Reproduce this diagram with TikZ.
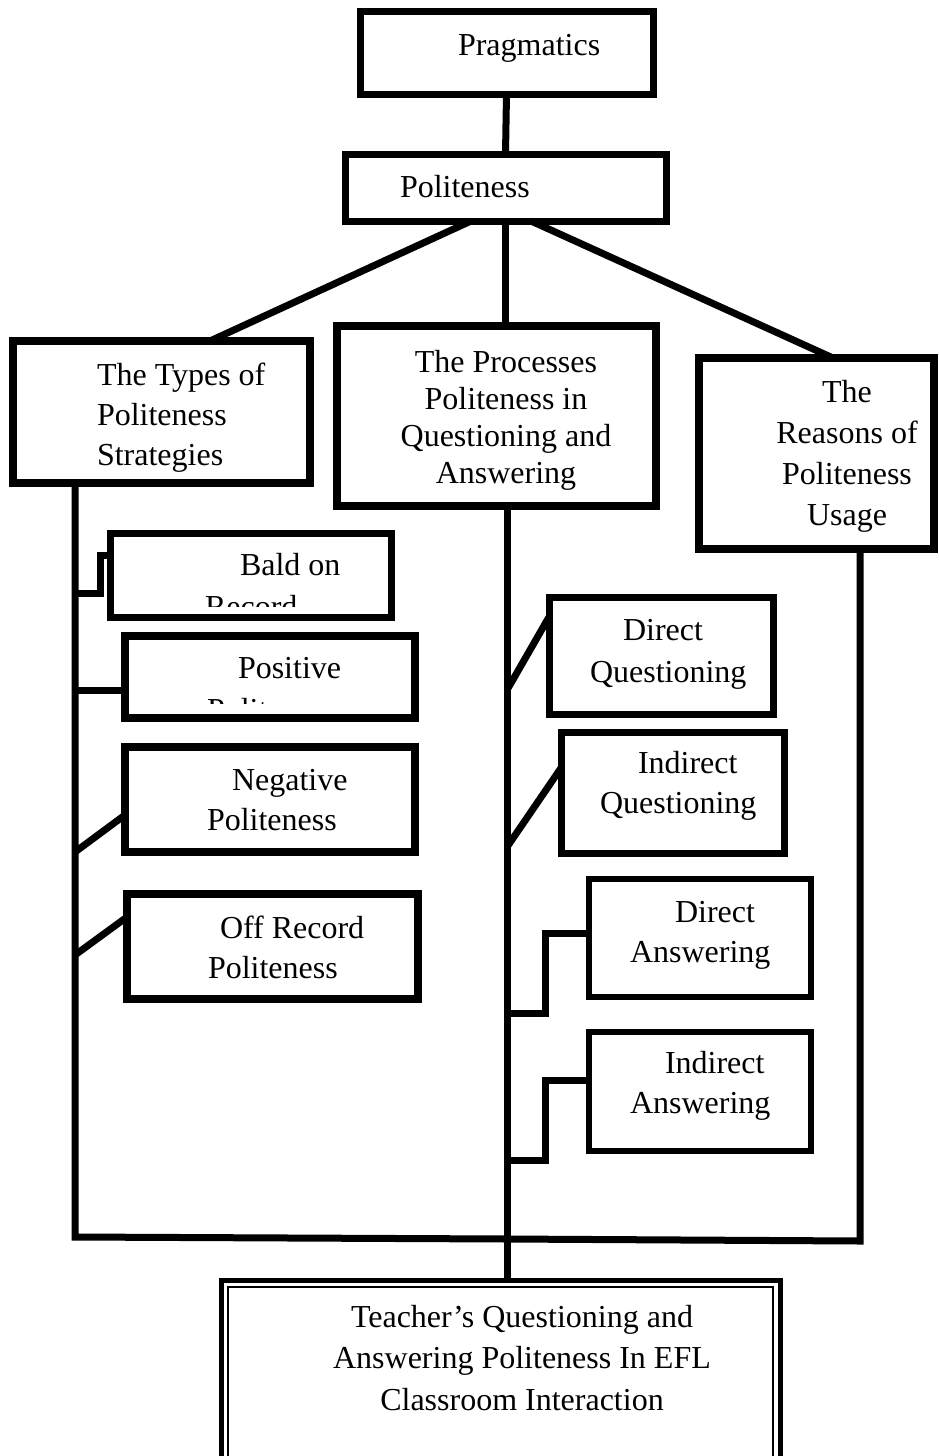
\documentclass[tikz,border=0pt]{standalone}
\usepackage{fontspec}
\setmainfont{Liberation Serif}
\usetikzlibrary{fit}
\begin{document}
\begin{tikzpicture}[x=0.5pt,y=-0.5pt,
  box/.style={draw=black, line width=3.5pt, inner sep=0pt, outer sep=0pt},
  heavybox/.style={box, line width=4pt},
  conn/.style={draw=black, line width=3.5pt},
  txt/.style={inner sep=0pt, outer sep=0pt, font=\fontsize{16}{20}\selectfont},
  tA/.style={txt, font=\fontsize{16}{20}\selectfont},
  tB/.style={txt, font=\fontsize{16}{21}\selectfont},
  tC/.style={txt, font=\fontsize{16}{18.5}\selectfont},
  tD/.style={txt, font=\fontsize{16}{20.5}\selectfont},
  tE/.style={txt, font=\fontsize{16}{20.75}\selectfont}]
\useasboundingbox (0,0) rectangle (938,1456);

% boxes
\node[box, fit={(360,11)(653,94)}] (prag) {};
\node[box, fit={(345,154)(666,221)}] (pol) {};
\node[heavybox, fit={(13,341)(310,483)}] (types) {};
\node[heavybox, fit={(337,326)(656,506)}] (proc) {};
\node[heavybox, fit={(699,358)(934,549)}] (reasons) {};
\node[box, fit={(110,533)(391,617)}] (bald) {};
\node[heavybox, fit={(125,636)(415,718)}] (pos) {};
\node[heavybox, fit={(125,747)(415,852)}] (neg) {};
\node[heavybox, fit={(127,894)(418,999)}] (off) {};
\node[box, fit={(549,597)(773,714)}] (dq) {};
\node[box, fit={(561,732)(784,853)}] (iq) {};
\node[box, line width=3pt, fit={(589,879)(811,997)}] (da) {};
\node[box, line width=3pt, fit={(589,1032)(811,1151)}] (ia) {};
\node[box, line width=2.5pt, fit={(221,1280)(780,1470)}] (teacher) {};
\node[box, line width=1pt, fit={(228,1287)(773,1470)}] (teacherin) {};

% texts
\node[txt, anchor=base west] (tprag) at (458,55) {Pragmatics};
\node[txt, anchor=base west] (tpol) at (400,197) {Politeness};
\begin{scope}
  \clip (17,345) rectangle (306,478);
  \node[tA, align=left, anchor=north west] (ttypes) at (97,357)
    {\strut The Types of\\\strut Politeness\\\strut Strategies};
\end{scope}
\node[tC, align=center, anchor=north] (tproc) at (506,347)
  {\strut The Processes\\\strut Politeness in\\\strut Questioning and\\\strut Answering};
\node[tD, align=center, anchor=north] (treasons) at (847,374)
  {\strut The\\\strut Reasons of\\\strut Politeness\\\strut Usage};
\begin{scope}
  \clip (114,537) rectangle (387,606);
  \node[tB, align=left, anchor=north west] (tbald) at (205,546)
    {\strut\hspace*{17.5pt}Bald on\\\strut Record};
\end{scope}
\begin{scope}
  \clip (129,640) rectangle (411,703);
  \node[tB, align=left, anchor=north west] (tpos) at (207,649)
    {\strut\hspace*{15.5pt}Positive\\\strut Politeness};
\end{scope}
\node[tA, align=left, anchor=north west] (tneg) at (207,762)
  {\strut\hspace*{12.5pt}Negative\\\strut Politeness};
\node[tA, align=left, anchor=north west] (toff) at (208,910)
  {\strut\hspace*{6pt}Off Record\\\strut Politeness};
\node[tB, align=left, anchor=north west] (tdq) at (590,611)
  {\strut\hspace*{16.5pt}Direct\\\strut Questioning};
\node[tA, align=left, anchor=north west] (tiq) at (600,745)
  {\strut\hspace*{19pt}Indirect\\\strut Questioning};
\node[tA, align=left, anchor=north west] (tda) at (630,894)
  {\strut\hspace*{22.5pt}Direct\\\strut Answering};
\node[tA, align=left, anchor=north west] (tia) at (630,1045)
  {\strut\hspace*{17.5pt}Indirect\\\strut Answering};
\node[tE, align=center, anchor=north] (tteacher) at (522,1298)
  {\strut Teacher’s Questioning and\\\strut Answering Politeness In EFL\\\strut Classroom Interaction};

% junction coordinates
\coordinate (bl) at (75,1237);
\coordinate (bm) at (507,1239);
\coordinate (br) at (860,1241);
\coordinate (jb) at (75,593);
\coordinate (jp) at (75,690);
\coordinate (jn) at (75,852);
\coordinate (jo) at (75,955);
\coordinate (jdq) at (507,690);
\coordinate (jiq) at (507,847);
\coordinate (jda) at (507,1013);
\coordinate (jia) at (507,1160);

% connectors
\draw[conn] (prag.south) -- (pol.north);
\draw[conn] ([xshift=-17.25pt]pol.south) -- ([xshift=24.25pt]types.north);
\draw[conn] (pol.south) -- (pol.south |- proc.north);
\draw[conn] ([xshift=12.75pt]pol.south) -- ([xshift=8.25pt]reasons.north);
\draw[conn] (types.south -| bl) -- (bl) -- (bm) -- (br) -- (reasons.south -| br);
\draw[conn] (proc.south -| bm) -- (teacher.north -| bm);

\draw[conn] (jb) -- ++(25,0) |- ([yshift=10pt]bald.west);
\draw[conn] (jp) -- (jp -| pos.west);
\draw[conn] (jn) -- ([yshift=-7.75pt]neg.west);
\draw[conn] (jo) -- ([yshift=14.75pt]off.west);
\draw[conn] (jdq) -- ([yshift=19.25pt]dq.west);
\draw[conn] (jiq) -- ([yshift=12.25pt]iq.west);
\draw[conn] (jda) -- ++(38,0) |- ([yshift=2.5pt]da.west);
\draw[conn] (jia) -- ++(38,0) |- ([yshift=5.75pt]ia.west);
\end{tikzpicture}
\end{document}
